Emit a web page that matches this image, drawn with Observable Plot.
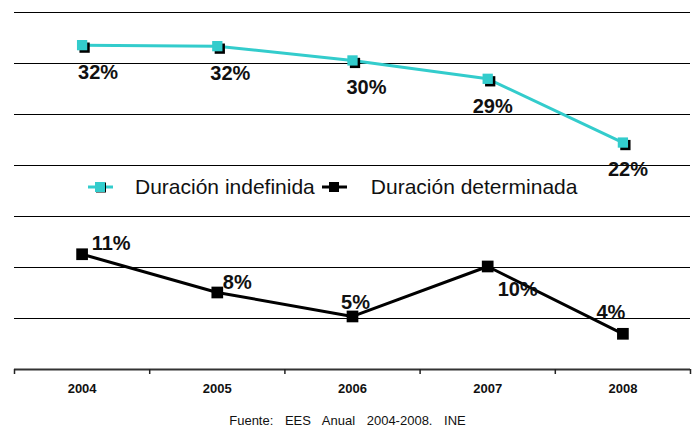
<!DOCTYPE html>
<html>
<head>
<meta charset="utf-8">
<script src="https://cdn.jsdelivr.net/npm/d3@7"></script>
<script src="https://cdn.jsdelivr.net/npm/@observablehq/plot@0.6"></script>
<style>
  body { margin: 0; background: #fff; font-family: "Liberation Sans", Arial, sans-serif; }
  #wrap { position: relative; width: 695px; height: 427px; }
  #legend { position: absolute; left: 88px; top: 175px; display: flex; align-items: center; font-size: 21px; color: #111; white-space: nowrap; }
  #legend svg { display: block; }
  #caption { position: absolute; left: 0; width: 695px; top: 413px; text-align: center; font-size: 13px; word-spacing: 8px; color: #111; }
</style>
</head>
<body>
<div id="wrap">
  <div id="chart"></div>
  <div id="legend"></div>
  <div id="caption">Fuente: EES Anual 2004-2008. INE</div>
</div>
<script>
const years = [2004, 2005, 2006, 2007, 2008];
const seriesNames = ["Duración indefinida", "Duración determinada"];
const indefinida = [31.8, 31.7, 30.3, 28.5, 22.25];
const determinada = [11.3, 7.55, 5.2, 10.1, 3.5];
const indefinidaLabels = ["32%", "32%", "30%", "29%", "22%"];
const determinadaLabels = ["11%", "8%", "5%", "10%", "4%"];

const cyan = "#33cccc";
const dark = "#000000";

const rowsA = years.map((x, i) => ({x, y: indefinida[i], label: indefinidaLabels[i]}));
const rowsB = years.map((x, i) => ({x, y: determinada[i], label: determinadaLabels[i]}));

// label placement (styling), per point
const offA = [[16, 27], [13, 27], [14, 27], [5, 28], [5, 27]];
const offB = [[29, -11], [20, -10], [3, -14], [30, 23], [-12, -21]];

const bounds = d3.range(d3.min(years) - 0.5, d3.max(years) + 1, 1);

const labelMarks = [
  ...rowsA.map((r, i) => Plot.text([r], {x: "x", y: "y", text: "label", dx: offA[i][0], dy: offA[i][1], fontSize: 20, fontWeight: "bold", fill: "#111"})),
  ...rowsB.map((r, i) => Plot.text([r], {x: "x", y: "y", text: "label", dx: offB[i][0], dy: offB[i][1], fontSize: 20, fontWeight: "bold", fill: "#111"}))
];

const chart = Plot.plot({
  width: 695,
  height: 405,
  marginLeft: 14,
  marginRight: 5,
  marginTop: 12,
  marginBottom: 36,
  style: {fontFamily: "'Liberation Sans', Arial, sans-serif", background: "#fff"},
  x: {domain: [bounds[0], bounds[bounds.length - 1]], axis: null},
  y: {domain: [0, 35], axis: null},
  marks: [
    Plot.gridY({ticks: d3.range(5, 36, 5), stroke: "#000", strokeOpacity: 1, strokeWidth: 1}),
    Plot.ruleY([0], {stroke: "#333", strokeWidth: 2}),
    Plot.axisX({ticks: bounds, tickSize: 5, tickFormat: () => "", label: null, stroke: "#222", strokeWidth: 1.5}),
    Plot.axisX({ticks: years, tickSize: 0, tickPadding: 14, label: null, tickFormat: d => String(d), fontSize: 13, fontWeight: "bold", fill: "#111"}),
    Plot.line(rowsA, {x: "x", y: "y", stroke: cyan, strokeWidth: 3}),
    Plot.dot(rowsA, {x: "x", y: "y", symbol: "square", r: 5.8, fill: dark, dx: 2.5, dy: 2.5}),
    Plot.dot(rowsA, {x: "x", y: "y", symbol: "square", r: 5.8, fill: cyan}),
    Plot.line(rowsB, {x: "x", y: "y", stroke: dark, strokeWidth: 3}),
    Plot.dot(rowsB, {x: "x", y: "y", symbol: "square", r: 6.6, fill: dark}),
    ...labelMarks
  ]
});
document.getElementById("chart").appendChild(chart);

// legend
function swatch(color, shadow) {
  const s = d3.create("svg").attr("width", 25).attr("height", 14);
  s.append("line").attr("x1", 0).attr("x2", 25).attr("y1", 7).attr("y2", 7).attr("stroke", color).attr("stroke-width", 3);
  if (shadow) s.append("rect").attr("x", 8).attr("y", 2.5).attr("width", 10).attr("height", 10).attr("fill", dark);
  s.append("rect").attr("x", 7).attr("y", 2).attr("width", 10).attr("height", 10).attr("fill", color);
  return s.node();
}
const legend = d3.select("#legend");
legend.append(() => swatch(cyan, true));
legend.append("span").style("margin-left", "22px").style("margin-right", "7px").text(seriesNames[0]);
legend.append(() => swatch(dark, false));
legend.append("span").style("margin-left", "24px").text(seriesNames[1]);
</script>
</body>
</html>
